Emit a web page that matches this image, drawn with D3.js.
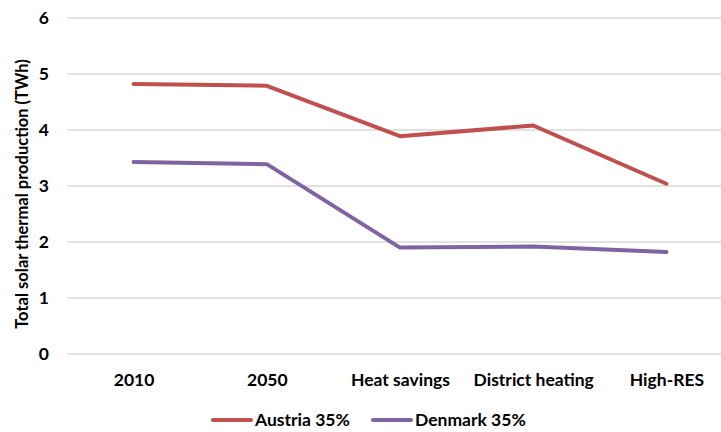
<!DOCTYPE html>
<html>
<head>
<meta charset="utf-8">
<script src="https://cdn.jsdelivr.net/npm/d3@7"></script>
<style>
  html, body { margin: 0; padding: 0; background: #fff; }
  svg text { font-family: Lato, "Open Sans", sans-serif; font-weight: bold; fill: #000; }
</style>
</head>
<body>
<svg id="chart" width="721" height="432"></svg>
<script>
const categories = ["2010", "2050", "Heat savings", "District heating", "High-RES"];
const austria = [4.82, 4.79, 3.89, 4.08, 3.04];
const denmark = [3.43, 3.39, 1.90, 1.92, 1.82];
const seriesNames = ["Austria 35%", "Denmark 35%"];
const seriesColors = ["#C0504D", "#8064A2"];
const yTicks = [0, 1, 2, 3, 4, 5, 6];

const svg = d3.select("#chart");
const mLeft = 67, mRight = 733, mTop = 18, mBottom = 354;

const x = d3.scalePoint().domain(categories).range([mLeft, mRight]).padding(0.5);
const y = d3.scaleLinear().domain([0, 6]).range([mBottom, mTop]);

// gridlines
svg.append("g").selectAll("line").data(yTicks).join("line")
  .attr("x1", mLeft).attr("x2", 721)
  .attr("y1", d => y(d)).attr("y2", d => y(d))
  .attr("stroke", "#d9d9d9").attr("stroke-width", 1.3);

// y axis labels
const yAxis = d3.axisLeft(y).tickValues(yTicks).tickSize(0).tickPadding(0).tickFormat(d3.format("d"));
const yg = svg.append("g").attr("transform", `translate(${mLeft - 18},0)`).call(yAxis);
yg.select(".domain").remove();
yg.selectAll("text").attr("font-size", 17.5).attr("fill", "#000")
  .style("font-family", "Lato, sans-serif").style("font-weight", "bold");

// x axis labels
const xAxis = d3.axisBottom(x).tickSize(0).tickPadding(0);
const xg = svg.append("g").attr("transform", `translate(0,${mBottom + 20})`).call(xAxis);
xg.select(".domain").remove();
xg.selectAll("text").attr("font-size", 17.5).attr("fill", "#000")
  .style("font-family", "Lato, sans-serif").style("font-weight", "bold");

// y title
svg.append("text")
  .attr("transform", `translate(28,${(mTop + mBottom) / 2 + 8}) rotate(-90)`)
  .attr("text-anchor", "middle")
  .attr("font-size", 16.5)
  .text("Total solar thermal production (TWh)");

// lines
const series = [austria, denmark];
const line = d3.line().x((d, i) => x(categories[i])).y(d => y(d));
series.forEach((s, k) => {
  svg.append("path").datum(s)
    .attr("d", line)
    .attr("fill", "none")
    .attr("stroke", seriesColors[k])
    .attr("stroke-width", 4)
    .attr("stroke-linecap", "round")
    .attr("stroke-linejoin", "round");
});

// legend
const legendItems = [{x: 213}, {x: 373}];
legendItems.forEach((it, k) => {
  const g = svg.append("g").attr("transform", `translate(${it.x},420)`);
  g.append("line").attr("x1", 0).attr("x2", 38).attr("y1", 0).attr("y2", 0)
    .attr("stroke", seriesColors[k]).attr("stroke-width", 4).attr("stroke-linecap", "round");
  g.append("text").attr("x", 42).attr("y", 6).attr("font-size", 17.5).text(seriesNames[k]);
});
</script>
</body>
</html>
